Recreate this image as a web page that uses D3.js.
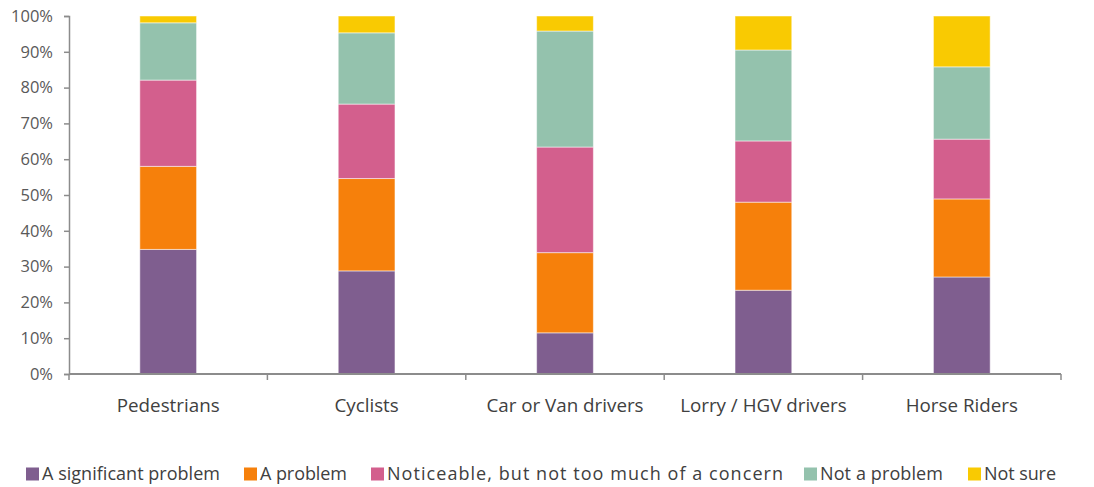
<!DOCTYPE html>
<html>
<head>
<meta charset="utf-8">
<script src="https://cdn.jsdelivr.net/npm/d3@7"></script>
<style>
  body { margin: 0; background: #fff; }
  svg text { font-family: "Open Sans", "Noto Sans", sans-serif; }
</style>
</head>
<body>
<div id="chart"></div>
<script>
// categories and series (percent of respondents)
const groups = ['Pedestrians', 'Cyclists', 'Car or Van drivers', 'Lorry / HGV drivers', 'Horse Riders'];
const seriesNames = ['A significant problem', 'A problem', 'Noticeable, but not too much of a concern', 'Not a problem', 'Not sure'];
const significant = [34.8, 28.8, 11.5, 23.4, 27.1];
const problem = [23.2, 25.8, 22.4, 24.6, 21.8];
const noticeable = [24.1, 20.8, 29.5, 17.1, 16.7];
const notProblem = [16.0, 19.9, 32.4, 25.4, 20.2];
const notSure = [1.9, 4.7, 4.2, 9.5, 14.2];
const yTicks = [0, 10, 20, 30, 40, 50, 60, 70, 80, 90, 100];
const colors = ['#7f5e8f', '#f6800b', '#d35f8d', '#94c2ad', '#f9ca02'];

const width = 1094, height = 487;
const margin = { left: 69, right: 33, top: 16, bottom: 113 };
const innerW = width - margin.left - margin.right;
const innerH = height - margin.top - margin.bottom;

// legend swatch x positions and label widths (layout)
const legendX = [26, 244, 371, 804, 968];
const legendW = [178, 87, 396, 123, 72];

const svg = d3.select('#chart').append('svg')
    .attr('width', width)
    .attr('height', height);

const g = svg.append('g')
    .attr('transform', `translate(${margin.left},${margin.top})`);

const rows = groups.map((name, i) => ({
    group: name,
    [seriesNames[0]]: significant[i],
    [seriesNames[1]]: problem[i],
    [seriesNames[2]]: noticeable[i],
    [seriesNames[3]]: notProblem[i],
    [seriesNames[4]]: notSure[i]
}));

const stacked = d3.stack().keys(seriesNames)(rows);

const xScale = d3.scaleBand()
    .domain(groups)
    .range([0, innerW])
    .padding(0);

const yScale = d3.scaleLinear()
    .domain([0, 100])
    .range([innerH, 0]);

const color = d3.scaleOrdinal().domain(seriesNames).range(colors);

const barW = xScale.bandwidth() * 0.286;

g.selectAll('.layer')
    .data(stacked)
    .enter()
    .append('g')
    .attr('class', 'layer')
    .attr('fill', d => color(d.key))
    .selectAll('rect')
    .data(d => d)
    .enter()
    .append('rect')
    .attr('x', d => xScale(d.data.group) + xScale.bandwidth() / 2 - barW / 2)
    .attr('y', d => yScale(d[1]))
    .attr('width', barW)
    .attr('height', d => yScale(d[0]) - yScale(d[1]))
    .attr('stroke', '#ffffff')
    .attr('stroke-opacity', 0.5)
    .attr('stroke-width', 1);

// y axis
const yAxis = d3.axisLeft(yScale)
    .tickValues(yTicks)
    .tickSize(5)
    .tickPadding(11)
    .tickFormat(d => d + '%');

const yG = g.append('g').attr('class', 'axis').call(yAxis);
yG.select('.domain').attr('stroke', '#8c8c8c').attr('stroke-width', 1.5);
yG.selectAll('.tick line').attr('stroke', '#8c8c8c').attr('stroke-width', 1.5);
yG.selectAll('.tick text')
    .attr('fill', '#595959')
    .style('font-size', '16.5px');

// x axis with ticks at category boundaries
const xG = g.append('g')
    .attr('class', 'axis')
    .attr('transform', `translate(0,${innerH})`);

xG.append('line')
    .attr('x1', 0).attr('x2', innerW)
    .attr('stroke', '#8c8c8c').attr('stroke-width', 2);

const boundaries = groups.map(d => xScale(d)).concat([innerW]);
xG.selectAll('.xtick')
    .data(boundaries)
    .enter()
    .append('line')
    .attr('class', 'xtick')
    .attr('x1', d => d).attr('x2', d => d)
    .attr('y1', 0).attr('y2', 6)
    .attr('stroke', '#8c8c8c').attr('stroke-width', 1.5);

xG.selectAll('.xlabel')
    .data(groups)
    .enter()
    .append('text')
    .attr('class', 'xlabel')
    .attr('x', d => xScale(d) + xScale.bandwidth() / 2)
    .attr('y', 38)
    .attr('text-anchor', 'middle')
    .attr('fill', '#404040')
    .style('font-size', '18.8px')
    .text(d => d);

// legend
const legend = svg.append('g')
    .attr('class', 'legend')
    .attr('transform', 'translate(0, 474)');

seriesNames.forEach((name, i) => {
    const item = legend.append('g').attr('transform', `translate(${legendX[i]},0)`);
    item.append('rect')
        .attr('y', -6.5)
        .attr('width', 13)
        .attr('height', 13)
        .attr('fill', color(name));
    item.append('text')
        .attr('x', 16)
        .attr('dy', '0.35em')
        .attr('fill', '#404040')
        .attr('textLength', legendW[i])
        .attr('lengthAdjust', 'spacing')
        .style('font-size', '18px')
        .text(name);
});
</script>
</body>
</html>
